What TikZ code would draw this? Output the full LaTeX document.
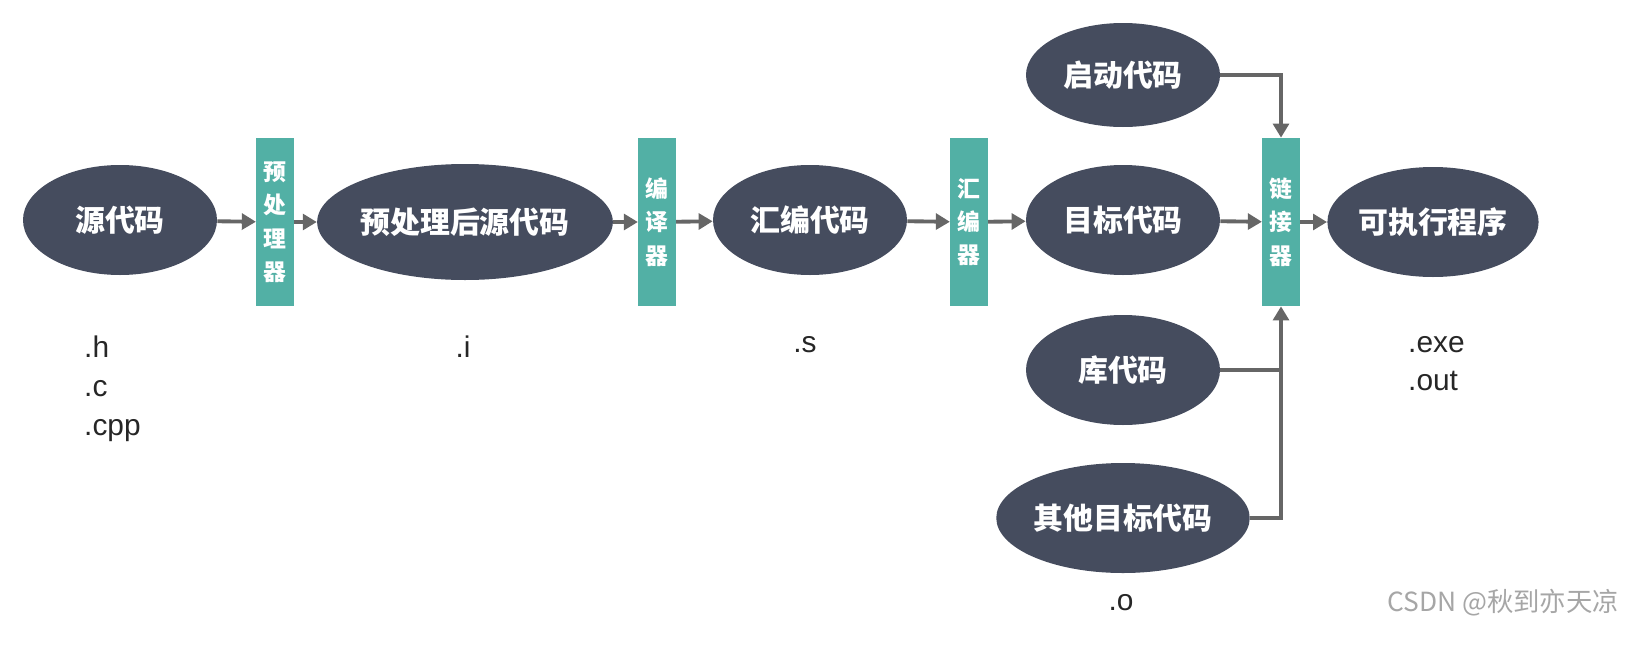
\documentclass[tikz,border=0pt]{standalone}
\usepackage{fontspec}
\setmainfont{Liberation Sans}
\newfontfamily\cjk{Noto Sans CJK SC}
\usetikzlibrary{shapes.geometric,arrows.meta}
\definecolor{ell}{HTML}{454C5E}
\definecolor{tealbox}{HTML}{52B0A5}
\definecolor{arr}{HTML}{666666}
\begin{document}
\begin{tikzpicture}[x=0.02cm,y=-0.02cm,
  oval/.style={ellipse,fill=ell,inner sep=0pt,minimum width=194*0.02cm,minimum height=110*0.02cm,text=white,font=\cjk\bfseries\fontsize{17}{20}\selectfont},
  tool/.style={rectangle,fill=tealbox,inner sep=0pt,minimum width=0.75cm,minimum height=3.36cm,text=white,align=center,font=\cjk\bfseries\fontsize{13}{19}\selectfont},
  ext/.style={font=\fontsize{17}{22}\selectfont,align=left,text=black!85},
  conn/.style={draw=arr,line width=2.2pt,-{Triangle[length=8pt,width=9pt]}},
  line/.style={draw=arr,line width=2.2pt}]
\useasboundingbox (0,0) rectangle (1630,656);
\node[oval] (src) at (120,220) {源代码};
\node[tool] (pre) at (275,222) {预\\处\\理\\器};
\node[oval,minimum width=266*0.02cm,minimum height=116*0.02cm] (ppsrc) at (465,222) {预处理后源代码};
\node[tool] (comp) at (657,222) {编\\译\\器};
\node[oval] (asm) at (810,220) {汇编代码};
\node[tool] (as) at (969,222) {汇\\编\\器};
\node[oval] (obj) at (1123,220) {目标代码};
\node[tool] (ld) at (1281,222) {链\\接\\器};
\node[oval] (exe) at (1433,222) {可执行程序};
\node[oval,minimum height=104*0.02cm] (start) at (1123,75) {启动代码};
\node[oval] (lib) at (1123,370) {库代码};
\node[oval,minimum width=206*0.02cm] (other) at (1123,518) {其他目标代码};

\draw[conn] (src) -- (pre);
\draw[conn] (pre) -- (ppsrc);
\draw[conn] (ppsrc) -- (comp);
\draw[conn] (comp) -- (asm);
\draw[conn] (asm) -- (as);
\draw[conn] (as) -- (obj);
\draw[conn] (obj) -- (ld);
\draw[conn] (ld) -- (exe);
\draw[conn] (start.east) -| (ld.north);
\coordinate (j) at (1281,370);
\draw[line] (lib.east) -- (j);
\draw[conn] (other.east) -| (ld.south);

\node[ext,anchor=north west] (t1) at (78,330) {.h\\.c\\.cpp};
\node[ext,anchor=north] (t2) at (463,330) {.i};
\node[ext,anchor=north] (t3) at (805,330) {.s};
\node[ext,anchor=north west] (t4) at (1402,330) {.exe\\.out};
\node[ext,anchor=north] (t5) at (1121,588) {.o};
\node[anchor=east,text=black!35,font=\cjk\fontsize{15}{18}\selectfont] (wm) at (1625,603) {CSDN @秋到亦天凉};
\end{tikzpicture}
\end{document}
